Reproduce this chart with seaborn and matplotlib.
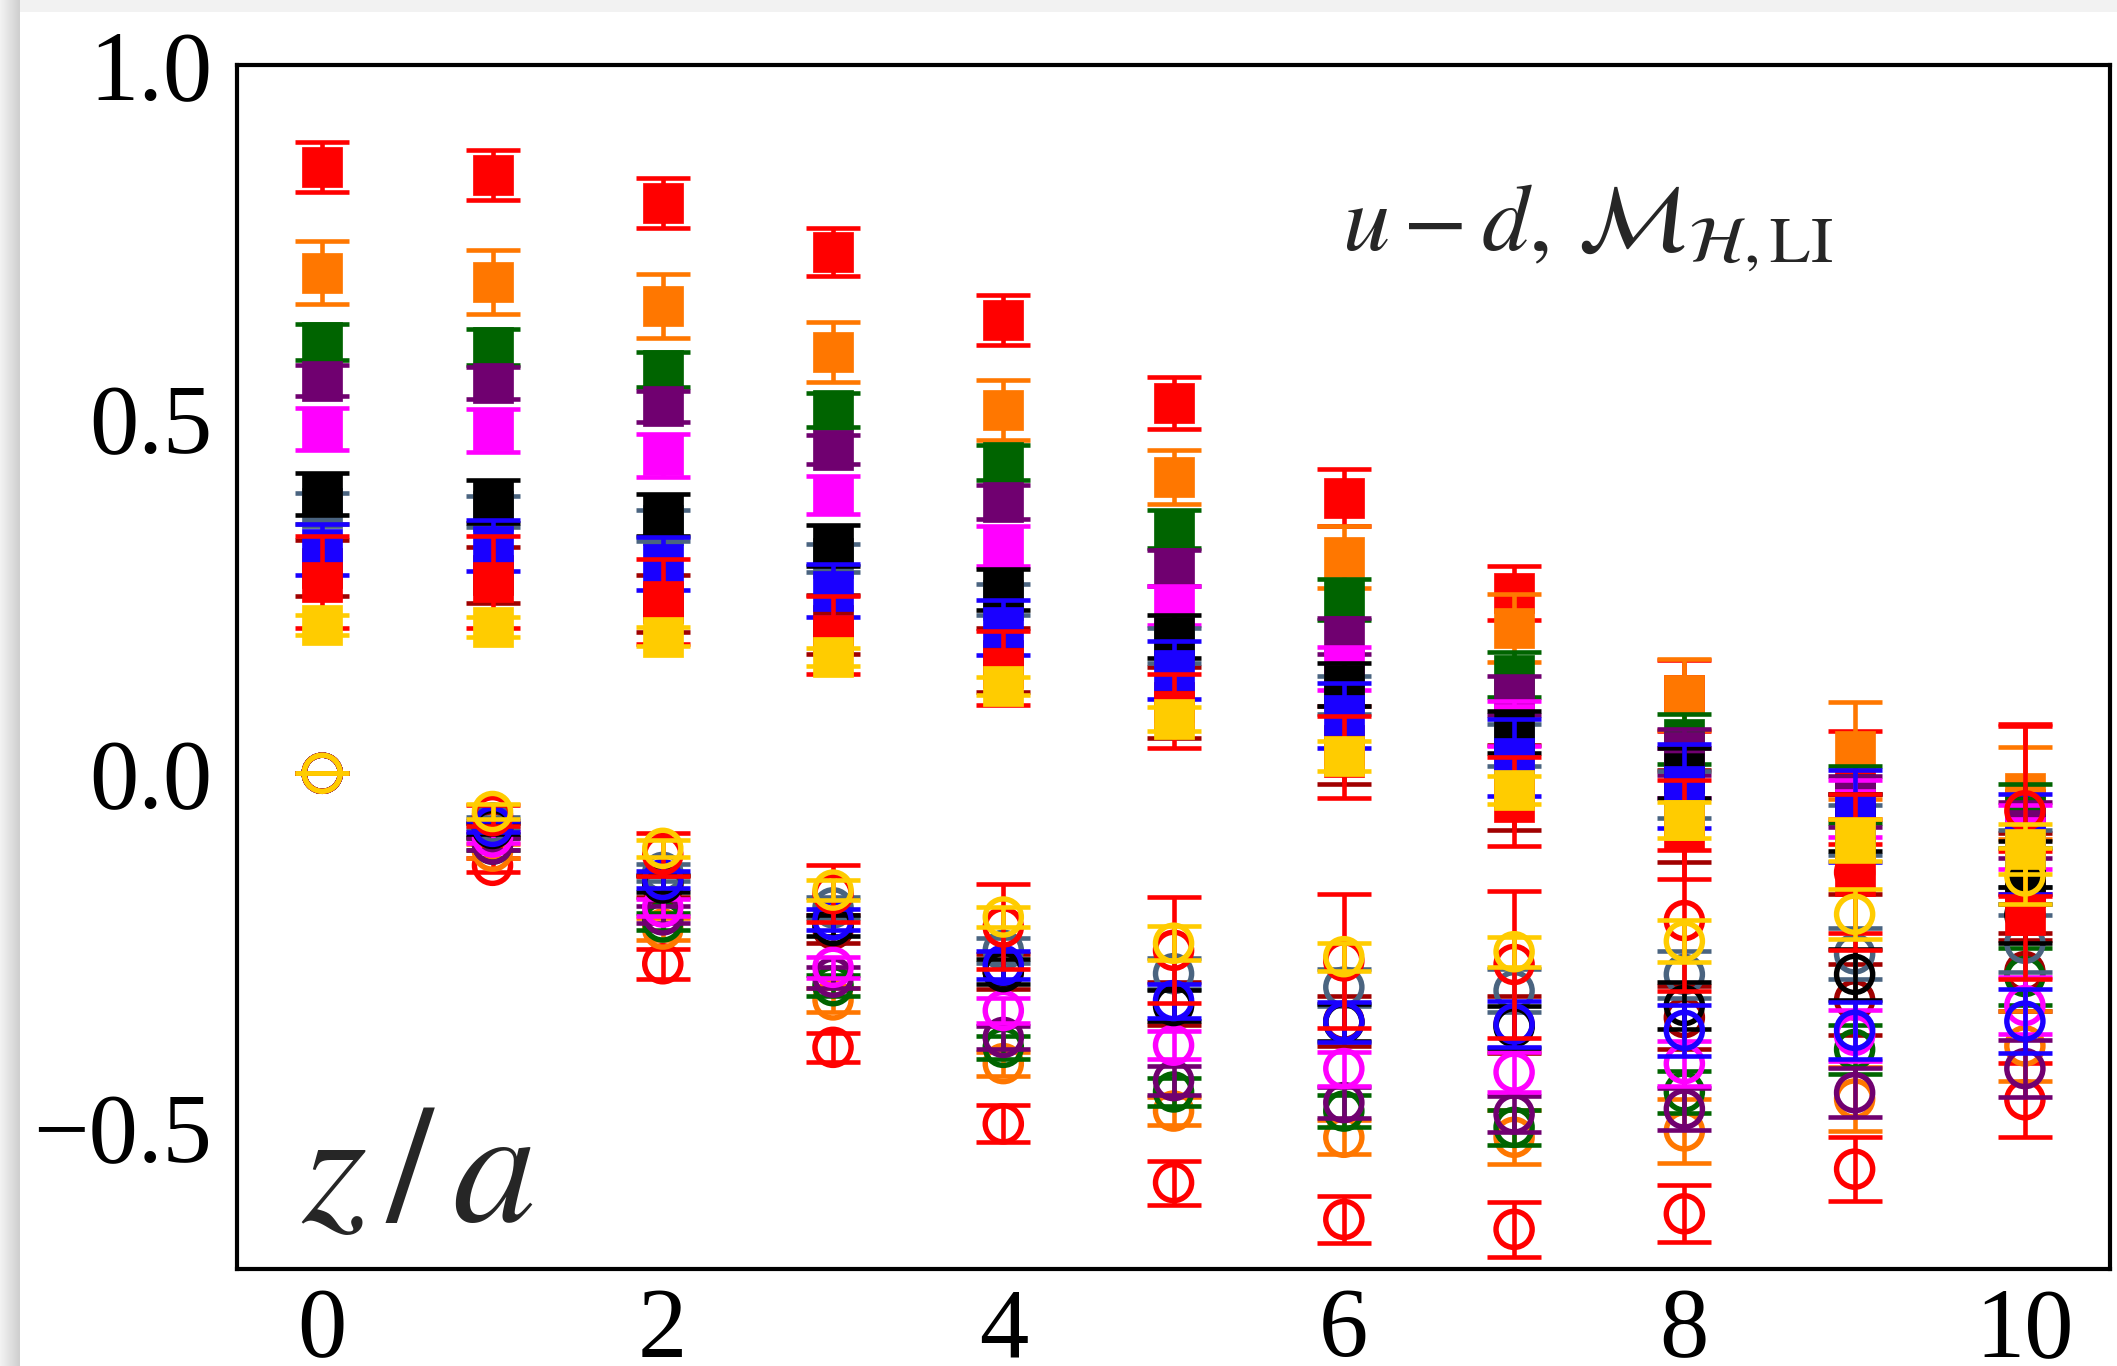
import matplotlib
matplotlib.use("Agg")
import matplotlib.pyplot as plt
from matplotlib.patches import Rectangle
import seaborn as sns

# --- data: z/a and the matrix elements (Re = filled squares, Im = open circles) ---
z = [0, 1, 2, 3, 4, 5, 6, 7, 8, 9, 10]

# drawing order: first entry lies at the bottom
series_colors = ['#a00000', '#ff0000', '#ff7700', '#006400', '#700070', '#ff00ff',
                 '#4a6480', '#000000', '#1a00ff', '#ff0000', '#ffcc00']

re_darkred = [0.290, 0.280, 0.240, 0.210, 0.160, 0.100, 0.040, -0.020, -0.060, -0.100, -0.160]
re_red1 = [0.856, 0.845, 0.805, 0.736, 0.640, 0.523, 0.389, 0.255, 0.110, -0.020, -0.050]
re_orange = [0.707, 0.694, 0.660, 0.595, 0.513, 0.418, 0.305, 0.205, 0.111, 0.032, -0.028]
re_green = [0.609, 0.602, 0.570, 0.513, 0.439, 0.345, 0.245, 0.139, 0.048, -0.030, -0.060]
re_purple = [0.554, 0.551, 0.518, 0.457, 0.383, 0.290, 0.194, 0.110, 0.030, -0.040, -0.080]
re_magenta = [0.486, 0.484, 0.449, 0.393, 0.321, 0.237, 0.148, 0.070, 0.000, -0.050, -0.090]
re_gray = [0.374, 0.370, 0.350, 0.304, 0.245, 0.180, 0.110, 0.040, -0.030, -0.080, -0.120]
re_black = [0.394, 0.384, 0.365, 0.322, 0.259, 0.193, 0.125, 0.058, 0.000, -0.070, -0.140]
re_blue = [0.316, 0.321, 0.296, 0.258, 0.206, 0.146, 0.082, 0.022, -0.018, -0.060, -0.100]
re_red2 = [0.270, 0.270, 0.243, 0.195, 0.149, 0.088, 0.023, -0.040, -0.080, -0.145, -0.200]
re_gold = [0.209, 0.206, 0.193, 0.164, 0.123, 0.076, 0.024, -0.024, -0.066, -0.094, -0.107]

re_err_darkred = [0.040, 0.040, 0.040, 0.042, 0.045, 0.050, 0.055, 0.060, 0.065, 0.070, 0.075]
re_err_red1 = [0.035, 0.035, 0.035, 0.034, 0.035, 0.037, 0.040, 0.038, 0.050, 0.080, 0.120]
re_err_orange = [0.045, 0.045, 0.045, 0.042, 0.042, 0.038, 0.044, 0.048, 0.050, 0.068, 0.065]
re_err_green = [0.025, 0.025, 0.025, 0.024, 0.025, 0.027, 0.029, 0.032, 0.035, 0.040, 0.045]
re_err_purple = [0.022, 0.022, 0.022, 0.021, 0.024, 0.025, 0.025, 0.028, 0.032, 0.036, 0.040]
re_err_magenta = [0.030, 0.030, 0.030, 0.027, 0.028, 0.028, 0.030, 0.032, 0.035, 0.040, 0.045]
re_err_gray = [0.022, 0.022, 0.022, 0.020, 0.022, 0.025, 0.027, 0.030, 0.033, 0.035, 0.040]
re_err_black = [0.030, 0.030, 0.030, 0.029, 0.029, 0.030, 0.030, 0.030, 0.035, 0.040, 0.045]
re_err_blue = [0.036, 0.036, 0.037, 0.037, 0.039, 0.041, 0.046, 0.054, 0.060, 0.065, 0.070]
re_err_red2 = [0.065, 0.065, 0.060, 0.055, 0.052, 0.052, 0.058, 0.063, 0.070, 0.080, 0.090]
re_err_gold = [0.014, 0.014, 0.014, 0.013, 0.013, 0.017, 0.021, 0.020, 0.025, 0.030, 0.035]

im_darkred = [0.0, -0.080, -0.160, -0.220, -0.280, -0.325, -0.350, -0.355, -0.345, -0.320, -0.280]
im_red1 = [0.0, -0.130, -0.269, -0.387, -0.495, -0.578, -0.630, -0.644, -0.622, -0.559, -0.461]
im_orange = [0.0, -0.110, -0.220, -0.320, -0.410, -0.477, -0.514, -0.514, -0.505, -0.460, -0.385]
im_green = [0.0, -0.100, -0.210, -0.300, -0.387, -0.450, -0.477, -0.500, -0.450, -0.390, -0.287]
im_purple = [0.0, -0.100, -0.200, -0.288, -0.373, -0.434, -0.465, -0.481, -0.474, -0.451, -0.417]
im_magenta = [0.0, -0.090, -0.189, -0.274, -0.335, -0.384, -0.417, -0.422, -0.410, -0.370, -0.328]
im_gray = [0.0, -0.070, -0.140, -0.190, -0.250, -0.283, -0.302, -0.307, -0.284, -0.255, -0.240]
im_black = [0.0, -0.078, -0.155, -0.215, -0.280, -0.328, -0.352, -0.358, -0.328, -0.284, -0.200]
im_blue = [0.0, -0.075, -0.150, -0.207, -0.271, -0.321, -0.351, -0.354, -0.363, -0.363, -0.350]
im_red2 = [0.0, -0.060, -0.115, -0.170, -0.217, -0.250, -0.265, -0.270, -0.208, -0.140, -0.053]
im_gold = [0.0, -0.054, -0.106, -0.165, -0.203, -0.240, -0.259, -0.252, -0.237, -0.199, -0.145]

im_err_darkred = [0.0, 0.010, 0.015, 0.020, 0.025, 0.030, 0.035, 0.040, 0.045, 0.050, 0.055]
im_err_red1 = [0.0, 0.010, 0.021, 0.020, 0.026, 0.031, 0.033, 0.039, 0.040, 0.045, 0.052]
im_err_orange = [0.0, 0.010, 0.015, 0.017, 0.017, 0.020, 0.024, 0.038, 0.045, 0.045, 0.050]
im_err_green = [0.0, 0.008, 0.012, 0.015, 0.016, 0.020, 0.022, 0.025, 0.030, 0.035, 0.040]
im_err_purple = [0.0, 0.008, 0.012, 0.015, 0.016, 0.020, 0.022, 0.025, 0.030, 0.035, 0.040]
im_err_magenta = [0.0, 0.008, 0.012, 0.015, 0.017, 0.020, 0.024, 0.028, 0.032, 0.036, 0.040]
im_err_gray = [0.0, 0.008, 0.012, 0.015, 0.018, 0.022, 0.026, 0.030, 0.033, 0.036, 0.040]
im_err_black = [0.0, 0.008, 0.012, 0.015, 0.018, 0.022, 0.026, 0.030, 0.033, 0.036, 0.040]
im_err_blue = [0.0, 0.008, 0.012, 0.015, 0.020, 0.024, 0.028, 0.032, 0.036, 0.040, 0.045]
im_err_red2 = [0.0, 0.015, 0.030, 0.040, 0.060, 0.075, 0.094, 0.104, 0.100, 0.110, 0.120]
im_err_gold = [0.0, 0.010, 0.012, 0.014, 0.014, 0.024, 0.020, 0.021, 0.030, 0.035, 0.040]

re_all = [re_darkred, re_red1, re_orange, re_green, re_purple, re_magenta,
          re_gray, re_black, re_blue, re_red2, re_gold]
re_err_all = [re_err_darkred, re_err_red1, re_err_orange, re_err_green, re_err_purple,
              re_err_magenta, re_err_gray, re_err_black, re_err_blue, re_err_red2, re_err_gold]
im_all = [im_darkred, im_red1, im_orange, im_green, im_purple, im_magenta,
          im_gray, im_black, im_blue, im_red2, im_gold]
im_err_all = [im_err_darkred, im_err_red1, im_err_orange, im_err_green, im_err_purple,
              im_err_magenta, im_err_gray, im_err_black, im_err_blue, im_err_red2, im_err_gold]

# --- style ---
sns.set_theme(style="white")
plt.rcParams['font.family'] = ['Liberation Serif', 'DejaVu Serif']
plt.rcParams['mathtext.fontset'] = 'stix'
plt.rcParams['axes.unicode_minus'] = True

fig, ax = plt.subplots(figsize=(21.17, 13.66), dpi=100)
fig.subplots_adjust(left=0.112, right=0.9967, bottom=0.071, top=0.9524)

# screenshot-like shadow at the left and top edges
for i in range(20):
    g = 0.95 - 0.14 * i / 19
    fig.add_artist(Rectangle((i / 2117, 0), 1.05 / 2117, 1, transform=fig.transFigure,
                             color=(g, g, g), lw=0, zorder=-5))
fig.add_artist(Rectangle((0, 1 - 12 / 1366), 1, 12 / 1366, transform=fig.transFigure,
                         color='#f2f2f2', lw=0, zorder=-6))

lw_err = 3.3
cap = 19.5
for k, c in enumerate(series_colors):
    zo = 2 + 2 * k
    ax.errorbar(z, re_all[k], yerr=re_err_all[k], fmt='none', ecolor=c,
                elinewidth=lw_err, capsize=cap, capthick=lw_err, zorder=zo)
    ax.errorbar(z, im_all[k], yerr=im_err_all[k], fmt='none', ecolor=c,
                elinewidth=lw_err, capsize=cap, capthick=lw_err, zorder=zo)
    sns.scatterplot(x=z, y=re_all[k], marker='s', s=29 ** 2, color=c, edgecolor=c,
                    linewidth=0.5, ax=ax, zorder=zo + 1, legend=False)
    sns.scatterplot(x=z, y=im_all[k], marker='o', s=26 ** 2, facecolor='none',
                    edgecolor=c, linewidth=3.9, ax=ax, zorder=zo + 1, legend=False)

ax.set_xlim(-0.5, 10.5)
ax.set_ylim(-0.70, 1.0)
ax.set_xticks([0, 2, 4, 6, 8, 10])
ax.set_yticks([-0.5, 0.0, 0.5, 1.0])
ax.set_xlabel('')
ax.set_ylabel('')

for sp in ax.spines.values():
    sp.set_linewidth(3.0)
    sp.set_color('black')
ax.tick_params(direction='in', length=16, width=2.8, labelsize=71, colors='black')
ax.tick_params(axis='x', pad=13)
ax.tick_params(axis='y', pad=18)

ax.text(0.59, 0.846, r'$u-d,\, \mathcal{M}_{\mathcal{H},\mathrm{LI}}$', transform=ax.transAxes,
        fontsize=68, ha='left', va='baseline')
ax.text(0.034, 0.04, r'$z\,/\,a$', transform=ax.transAxes, fontsize=120,
        ha='left', va='baseline')

plt.savefig('out.png', dpi=100)
